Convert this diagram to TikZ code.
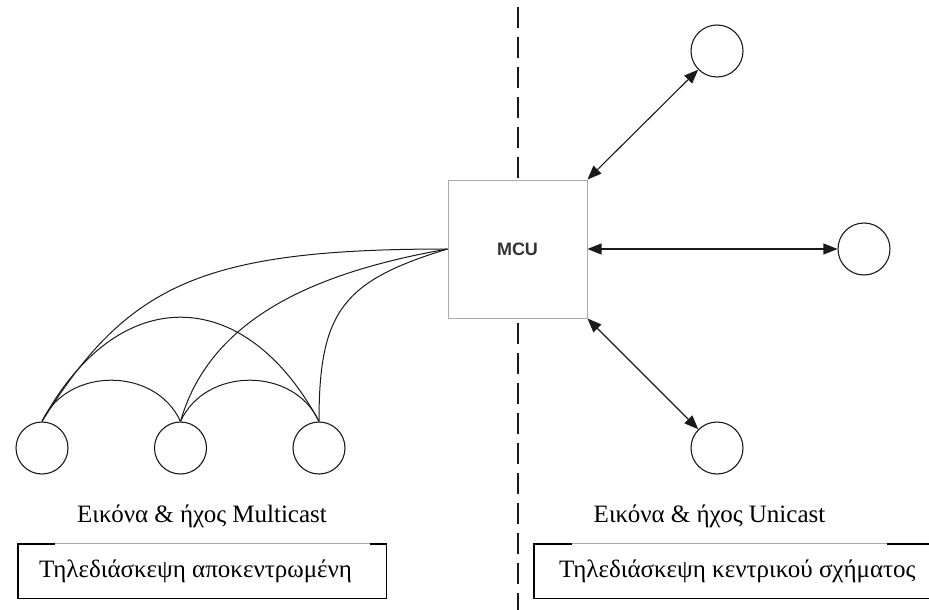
\documentclass[tikz,border=0pt]{standalone}
\usepackage{fontspec}
\setmainfont{Liberation Serif}
\newfontfamily\mcufont{Liberation Sans}
\usetikzlibrary{arrows.meta,calc}
\definecolor{boxgray}{HTML}{AAAAAA}
\definecolor{inkcol}{HTML}{1A1A1A}
\tikzset{
  term/.style={circle,draw=inkcol,line width=1.1pt,minimum size=52pt,inner sep=0pt},
  mcubox/.style={rectangle,draw=boxgray,line width=1pt,fill=white,minimum width=139pt,minimum height=138pt,inner sep=0pt,font=\mcufont\bfseries\fontsize{18}{20}\selectfont,text=black!80},
  link/.style={draw=inkcol,line width=1pt},
  duplex/.style={draw=inkcol,line width=1.1pt,{Triangle[length=14pt,width=11pt]}-{Triangle[length=14pt,width=11pt]}},
  divider/.style={draw=inkcol,line width=2pt,dash pattern=on 21pt off 9pt},
  caption/.style={font=\fontsize{25}{30}\selectfont,inner sep=0pt,anchor=base},
  framebox/.style={rectangle,draw=none,inner sep=0pt},
  frameedge/.style={draw=black,line width=1.4pt},
  frametop/.style={draw=boxgray,line width=1pt}
}
\begin{document}
\begin{tikzpicture}[x=1pt,y=-1pt]
\useasboundingbox (0,0) rectangle (929,610);
% MCU and divider
\node[mcubox] (mcu) at (517.5,249) {MCU};
\coordinate (dtop) at (517.5,7);
\coordinate (dbot) at (517.5,612);
\draw[divider] (dtop) -- ([yshift=1pt]mcu.north);
\draw[divider] ([yshift=-4pt]mcu.south) -- (dbot);
% right terminals
\node[term] (r1) at (717,51) {};
\node[term] (r2) at (864,249) {};
\node[term] (r3) at (717,448) {};
\draw[duplex] (mcu.north east) -- (r1);
\draw[duplex] (mcu.east) -- (r2);
\draw[duplex] (mcu.south east) -- (r3);
% left terminals
\node[term] (l1) at (42,448) {};
\node[term] (l2) at (180.5,448) {};
\node[term] (l3) at (319,448) {};
\draw[link] (mcu.west) .. controls +(-248,0) and +(85,-136) .. (l1.north);
\draw[link] (mcu.west) .. controls +(-128,22.6) and +(30.3,-105.7) .. (l2.north);
\draw[link] (mcu.west) .. controls +(-105,32) and +(0,-110) .. (l3.north);
\draw[link] (l1.north) .. controls +(25,-55) and +(-25,-55) .. (l2.north);
\draw[link] (l2.north) .. controls +(25,-55) and +(-25,-55) .. (l3.north);
\draw[link] (l1.north) .. controls +(75,-139) and +(-75,-139) .. (l3.north);
% captions
\node[caption] (capm) at (202,522) {Εικόνα \& ήχος Multicast};
\node[caption] (capu) at (709.5,522) {Εικόνα \& ήχος Unicast};
% bottom boxes
\node[framebox,minimum width=368pt,minimum height=54pt] (b1) at (202,571) {};
\node[caption,anchor=west] (t1) at ($(b1.west)+(21,0)$) {Τηλεδιάσκεψη αποκεντρωμένη};
\draw[frameedge] ($(b1.north west)+(37,0)$) -- (b1.north west) -- (b1.south west) -- (b1.south east) -- (b1.north east) -- ($(b1.north east)+(-16,0)$);
\draw[frametop] ($(b1.north west)+(37,0)$) -- ($(b1.north east)+(-16,0)$);
\node[framebox,minimum width=411pt,minimum height=54pt] (b2) at (739.5,571) {};
\node[caption,anchor=west] (t2) at ($(b2.west)+(25,0)$) {Τηλεδιάσκεψη κεντρικού σχήματος};
\draw[frameedge] ($(b2.north west)+(38,0)$) -- (b2.north west) -- (b2.south west) -- (b2.south east);
\draw[frameedge] ($(b2.north east)+(-58,0)$) -- (b2.north east);
\draw[frametop] ($(b2.north west)+(38,0)$) -- ($(b2.north east)+(-58,0)$);
\end{tikzpicture}
\end{document}
